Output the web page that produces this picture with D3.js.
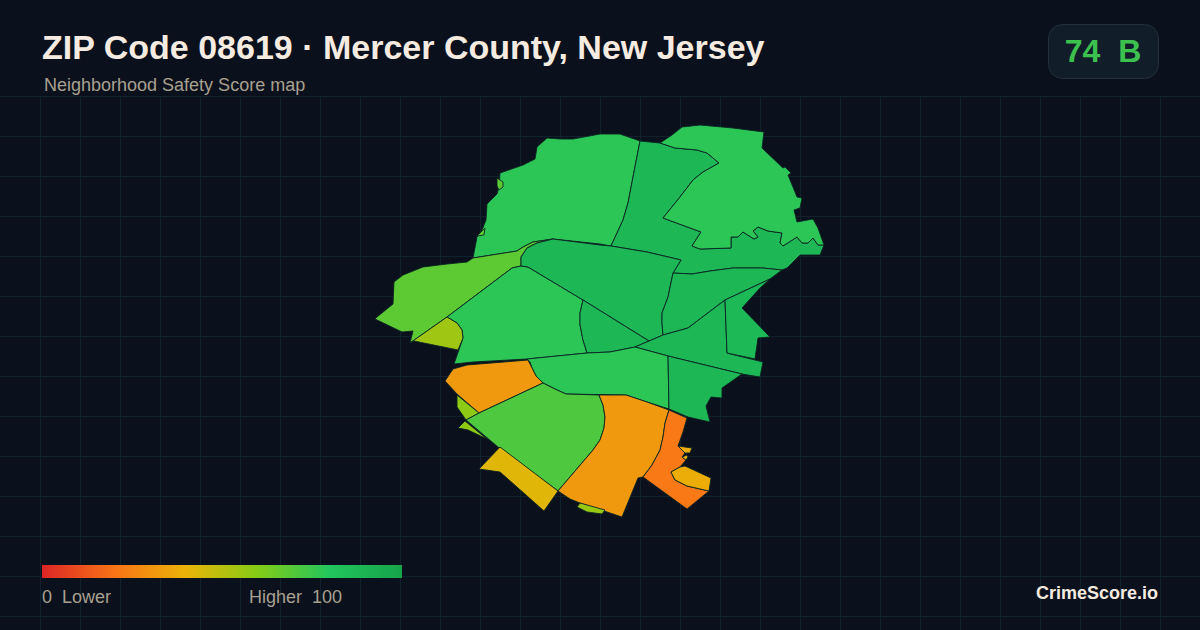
<!DOCTYPE html>
<html>
<head>
<meta charset="utf-8">
<script src="https://cdn.jsdelivr.net/npm/d3@7"></script>
<style>
  html, body { margin: 0; padding: 0; background: #0a101c; }
  svg { display: block; }
  text { font-family: "Liberation Sans", Arial, sans-serif; white-space: pre; }
</style>
</head>
<body>
<div id="chart"></div>
<script>
// header / footer text
const titleText = "ZIP Code 08619 · Mercer County, New Jersey";
const subtitleText = "Neighborhood Safety Score map";
const scoreText = "74  B";
const legendLow = "0  Lower";
const legendHigh = "Higher  100";
const brandText = "CrimeScore.io";

// colour ramp of the score
const rampStops = [0, 20, 40, 60, 80, 100];
const rampColors = ["#dc2626", "#f97316", "#eab308", "#84cc16", "#22c55e", "#16a34a"];

// block groups (local map units, x east, y north)
const tractScores = [78, 88, 78, 68, 78, 55, 88, 88, 88, 88, 87, 78, 88, 32, 58, 58, 71, 42, 32, 56, 22, 38, 38, 38, 68, 68];
const tractRings = [
  [[173,342],[177,363],[182,370],[186,380],[187,396],[197,406],[199,413],[200,427],[223,435],[235,441],[237,453],[247,462],[260,461],[273,461],[300,466],[320,466],[340,459],[333,423],[328,397],[323,380],[311,354],[300,356],[253,361],[233,358],[223,353],[217,349]],
  [[340,459],[360,457],[375,452],[397,450],[407,447],[419,437],[403,428],[393,420],[380,403],[363,382],[401,368],[392,354],[400,351],[431,352],[431,363],[438,363],[443,368],[454,361],[458,363],[453,369],[458,373],[468,369],[482,367],[480,357],[483,354],[497,363],[502,357],[508,357],[513,362],[518,355],[524,355],[520,345],[500,345],[487,332],[482,330],[463,332],[433,332],[410,329],[392,326],[373,327],[381,340],[347,348],[311,354],[323,380],[328,397],[333,423]],
  [[360,457],[372,465],[382,473],[400,475],[433,472],[464,468],[462,452],[483,432],[485,433],[491,427],[488,425],[495,408],[497,403],[502,402],[500,392],[494,390],[497,378],[513,381],[518,372],[524,355],[518,355],[513,362],[508,357],[502,357],[497,363],[483,354],[480,357],[482,367],[468,369],[458,373],[453,369],[458,363],[454,361],[443,368],[438,363],[431,363],[431,352],[400,351],[392,354],[401,368],[363,382],[380,403],[393,420],[403,428],[419,437],[407,447],[397,450],[375,452]],
  [[173,342],[167,338],[147,336],[123,333],[103,325],[94,318],[93,296],[77,283],[75,281],[102,268],[113,269],[110,257],[147,283],[212,332],[221,334],[221,343],[227,352],[237,357],[253,361],[233,358],[223,353],[217,349]],
  [[147,283],[212,332],[221,334],[228,333],[283,300],[280,287],[280,275],[283,260],[287,247],[227,241],[173,238],[154,236],[163,262],[162,270],[157,277]],
  [[147,283],[157,277],[162,270],[163,262],[158,250],[114,259],[110,257]],
  [[221,334],[221,343],[227,352],[237,357],[253,361],[300,355],[311,354],[347,348],[381,340],[373,327],[368,303],[362,287],[362,277],[363,265],[349,259],[283,300],[228,333]],
  [[373,327],[392,326],[410,329],[433,332],[463,332],[482,330],[470,321],[425,300],[388,272],[363,265],[362,277],[362,287],[368,303]],
  [[283,300],[349,259],[335,253],[310,248],[287,247],[283,260],[280,275],[280,287]],
  [[335,253],[349,259],[363,265],[388,272],[425,300],[427,247],[463,238],[460,223],[442,226],[368,244]],
  [[470,321],[460,312],[442,292],[470,263],[458,262],[455,241],[427,247],[425,300]],
  [[227,241],[287,247],[310,248],[335,253],[368,244],[369,191],[347,198],[326,205],[266,206],[257,210],[243,217],[236,224],[232,232],[230,238]],
  [[368,244],[442,226],[422,212],[422,202],[411,203],[406,194],[410,178],[388,183],[369,191]],
  [[228,240],[167,235],[153,231],[145,219],[157,206],[179,187],[243,217],[236,224],[232,232]],
  [[157,205],[157,193],[166,180],[179,187]],
  [[165,179],[158,172],[168,170],[187,161]],
  [[243,217],[179,187],[166,180],[198,153],[258,109],[293,150],[300,160],[304,172],[305,183],[303,195],[299,205],[266,206],[257,210]],
  [[200,153],[258,109],[244,89],[200,128],[179,131]],
  [[299,205],[326,205],[347,198],[369,190],[365,177],[363,163],[360,150],[352,135],[343,123],[338,122],[322,83],[280,97],[270,101],[258,109],[293,150],[300,160],[304,172],[305,183],[303,195]],
  [[280,97],[305,90],[302,86],[287,88],[277,93]],
  [[369,190],[387,182],[383,168],[378,154],[385,147],[382,143],[386,140],[380,133],[371,128],[375,120],[387,114],[409,109],[387,91],[343,123],[352,135],[360,150],[363,163],[365,177]],
  [[371,128],[380,133],[385,134],[411,122],[409,109],[387,114],[375,120]],
  [[378,154],[392,152],[390,147],[385,147]],
  [[382,143],[387,145],[388,143],[386,140]],
  [[197,422],[203,418],[203,413],[199,410],[197,414]],
  [[177,364],[185,372],[184,365]]
];

const width = 1200;
const height = 630;

const color = d3.scaleLinear().domain(rampStops).range(rampColors);

const svg = d3.select("#chart").append("svg")
  .attr("width", width)
  .attr("height", height)
  .attr("viewBox", [0, 0, width, height]);

svg.append("rect").attr("width", width).attr("height", height).attr("fill", "#0a101c");

// Grille de fond
const grid = svg.append("g").attr("stroke", "#12222c").attr("stroke-width", 1);
grid.selectAll("line.v")
  .data(d3.range(40, width, 40))
  .join("line")
  .attr("class", "v")
  .attr("x1", (d) => d + 0.5).attr("x2", (d) => d + 0.5)
  .attr("y1", 96).attr("y2", height);
grid.selectAll("line.h")
  .data(d3.range(96, height, 40))
  .join("line")
  .attr("class", "h")
  .attr("x1", 0).attr("x2", width)
  .attr("y1", (d) => d + 0.5).attr("y2", (d) => d + 0.5);

// Carte
const features = tractRings.map((ring, i) => ({
  type: "Feature",
  properties: { score: tractScores[i] },
  geometry: { type: "Polygon", coordinates: [[...ring, ring[0]]] },
}));

const projection = d3.geoIdentity()
  .reflectY(true)
  .fitExtent([[375, 125], [824, 517]], { type: "FeatureCollection", features });
const path = d3.geoPath(projection);

svg.append("g")
  .selectAll("path")
  .data(features)
  .join("path")
  .attr("d", path)
  .attr("fill", (d) => color(d.properties.score))
  .attr("stroke", "#0b2522")
  .attr("stroke-width", 0.9)
  .attr("stroke-linejoin", "round");

// Titres
svg.append("text")
  .attr("x", 42).attr("y", 59)
  .attr("font-size", 34).attr("font-weight", 700)
  .attr("fill", "#f5ebe0")
  .text(titleText);

svg.append("text")
  .attr("x", 44).attr("y", 91)
  .attr("font-size", 18)
  .attr("fill", "#a8a090")
  .text(subtitleText);

// Badge du score
svg.append("rect")
  .attr("x", 1048.5).attr("y", 24.5)
  .attr("width", 110).attr("height", 54)
  .attr("rx", 14)
  .attr("fill", "#121d2a")
  .attr("stroke", "#232f3d");

svg.append("text")
  .attr("x", 1103).attr("y", 62)
  .attr("text-anchor", "middle")
  .attr("font-size", 32).attr("font-weight", 700)
  .attr("fill", "#3cc14f")
  .text(scoreText);

// Légende
const legendX = d3.scaleLinear().domain([0, 100]).range([42, 402]);

const gradient = svg.append("defs").append("linearGradient")
  .attr("id", "score-ramp")
  .attr("x1", "0%").attr("x2", "100%");
gradient.selectAll("stop")
  .data(rampStops)
  .join("stop")
  .attr("offset", (d) => `${d}%`)
  .attr("stop-color", (d) => color(d));

svg.append("rect")
  .attr("x", legendX(0)).attr("y", 565)
  .attr("width", legendX(100) - legendX(0)).attr("height", 13)
  .attr("fill", "url(#score-ramp)");

svg.append("text")
  .attr("x", legendX(0)).attr("y", 603)
  .attr("font-size", 18)
  .attr("fill", "#a8a090")
  .text(legendLow);

svg.append("text")
  .attr("x", 342).attr("y", 603)
  .attr("text-anchor", "end")
  .attr("font-size", 18)
  .attr("fill", "#a8a090")
  .text(legendHigh);

svg.append("text")
  .attr("x", 1158).attr("y", 599)
  .attr("text-anchor", "end")
  .attr("font-size", 18).attr("font-weight", 700)
  .attr("fill", "#f5ebe0")
  .text(brandText);
</script>
</body>
</html>
